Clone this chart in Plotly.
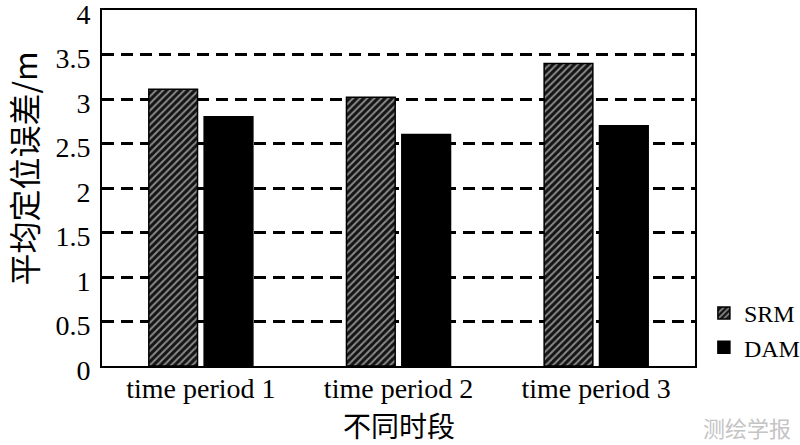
import plotly.graph_objects as go

categories = ["time period 1", "time period 2", "time period 3"]
srm_values = [3.11, 3.02, 3.40]
dam_values = [2.80, 2.60, 2.70]
y_tick_vals = [0, 0.5, 1, 1.5, 2, 2.5, 3, 3.5, 4]
y_tick_text = ["0", "0.5", "1", "1.5", "2", "2.5", "3", "3.5", "4"]

SERIF = "Liberation Serif, Times New Roman, Times, serif"
CJK = "Noto Sans CJK SC"

fig = go.Figure()
fig.add_trace(go.Bar(
    name="SRM", x=categories, y=srm_values,
    marker=dict(color="#141414", line=dict(color="black", width=1.5),
                pattern=dict(shape="/", fgcolor="white", size=5, solidity=0.4)),
))
fig.add_trace(go.Bar(
    name="DAM", x=categories, y=dam_values,
    marker=dict(color="black", line=dict(color="black", width=1.5)),
))

fig.update_layout(
    width=800, height=445,
    margin=dict(l=102, r=105, t=10, b=79, autoexpand=False),
    paper_bgcolor="white", plot_bgcolor="white",
    barmode="group", bargap=0.44, bargroupgap=0.12,
    font=dict(family=SERIF, color="black", size=26),
    showlegend=True,
    legend=dict(x=1.015, y=0.10, xanchor="left", yanchor="middle",
                font=dict(family=SERIF, size=24, color="black"),
                itemwidth=30, tracegroupgap=6, bgcolor="rgba(0,0,0,0)"),
)
fig.update_xaxes(
    showline=True, linecolor="black", linewidth=2, mirror=True,
    ticks="", showgrid=False, automargin=False, ticklabelstandoff=-4,
    tickfont=dict(family=SERIF, size=28, color="black"),
)
fig.update_yaxes(
    range=[0, 4], tickmode="array", tickvals=y_tick_vals, ticktext=y_tick_text,
    showline=True, linecolor="black", linewidth=2, mirror=True,
    ticks="", ticklabelstandoff=4, ticklabelshift=4,
    automargin=False, ticklabeloverflow="allow",
    showgrid=True, gridcolor="black", gridwidth=2.5, griddash="12px,7px",
    zeroline=False,
    tickfont=dict(family=SERIF, size=28, color="black", weight="normal"),
)

fig.add_annotation(text="平均定位误差/m", xref="paper", yref="paper",
                   x=-0.133, y=0.555, xanchor="center", yanchor="middle",
                   textangle=-90, showarrow=False,
                   font=dict(family=CJK, size=32, color="black"))
fig.add_annotation(text="不同时段", xref="paper", yref="paper",
                   x=0.5, y=-0.165, xanchor="center", yanchor="middle",
                   showarrow=False,
                   font=dict(family=CJK, size=28, color="black"))
fig.add_annotation(text="测绘学报", xref="paper", yref="paper",
                   x=1.088, y=-0.172, xanchor="center", yanchor="middle",
                   showarrow=False,
                   font=dict(family=CJK, size=22, color="#c4c4c4"))

fig.write_html("out.html", config={"displayModeBar": False},
               post_script="document.body.style.margin='0';")
